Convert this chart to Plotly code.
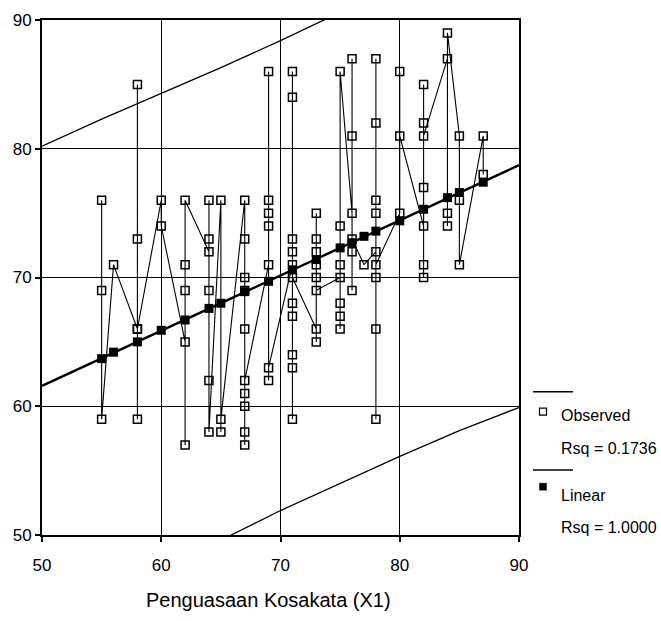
import numpy as np
import plotly.graph_objects as go

# Observed cases: Penguasaan Kosakata (X1) against the dependent score, in case order
x_obs = [55, 55, 55,
         56,
         58, 58, 58, 58, 58,
         60, 60,
         62, 62, 62, 62, 62,
         64, 64, 64, 64, 64, 64,
         65, 65, 65,
         67, 67, 67, 67, 67, 67, 67, 67, 67, 67,
         69, 69, 69, 69, 69, 69, 69,
         71, 71, 71, 71, 71, 71, 71, 71, 71, 71, 71,
         73, 73, 73, 73, 73, 73, 73, 73,
         75, 75, 75, 75, 75, 75, 75,
         76, 76, 76, 76, 76, 76,
         77,
         78, 78, 78, 78, 78, 78, 78, 78, 78,
         80, 80, 80,
         82, 82, 82, 82, 82, 82, 82,
         84, 84, 84, 84,
         85, 85, 85,
         87, 87]
y_obs = [76, 69, 59,
         71,
         66, 85, 59, 73, 66,
         76, 74,
         65, 57, 69, 71, 76,
         72, 76, 73, 69, 62, 58,
         76, 58, 59,
         76, 57, 73, 58, 70, 60, 69, 61, 66, 62,
         71, 86, 76, 75, 74, 62, 63,
         71, 86, 84, 59, 73, 72, 68, 67, 64, 63, 70,
         66, 75, 65, 73, 72, 71, 70, 69,
         70, 66, 74, 67, 71, 68, 86,
         75, 87, 69, 81, 72, 73,
         71,
         72, 87, 59, 82, 76, 75, 70, 66, 71,
         75, 86, 81,
         74, 70, 85, 71, 77, 82, 81,
         87, 75, 74, 89,
         81, 76, 71,
         81, 78]

# Linear model: predicted values at each observed X1
x_linear = [55, 56, 58, 60, 62, 64, 65, 67, 69, 71,
            73, 75, 76, 77, 78, 80, 82, 84, 85, 87]
y_linear = [63.7, 64.2, 65.0, 65.9, 66.7, 67.6, 68.0, 68.9, 69.7, 70.6,
            71.4, 72.3, 72.7, 73.2, 73.6, 74.4, 75.3, 76.2, 76.6, 77.4]

# Prediction band limits
band_x = [50, 55, 60, 65, 70, 75, 80, 85, 90]
band_upper = [80.2, 82.3, 84.3, 86.3, 88.4, 90.6, 92.7, 95.0, 97.4]
band_lower = [42.8, 45.2, 47.4, 49.6, 51.9, 54.0, 56.1, 58.1, 59.9]

x_ticks = [50, 60, 70, 80, 90]
y_ticks = [50, 60, 70, 80, 90]
rsq_observed = "0.1736"
rsq_linear = "1.0000"
x_title = "Penguasaan Kosakata (X1)"

# The fitted line spans the full axis range
slope, intercept = np.polyfit(x_linear, y_linear, 1)
line_x = [50, 90]
line_y = [intercept + slope * v for v in line_x]

# Page geometry (pixels)
W, H = 661, 621
L, R, T, B = 42, 519, 20, 535


def px(xp):
    return (xp - L) / (R - L)


def py(yp):
    return (B - yp) / (B - T)


FONT = "Liberation Sans, Arial, sans-serif"

fig = go.Figure()

fig.add_trace(go.Scatter(x=band_x, y=band_upper, mode="lines",
                         line=dict(color="black", width=1.3), hoverinfo="skip"))
fig.add_trace(go.Scatter(x=band_x, y=band_lower, mode="lines",
                         line=dict(color="black", width=1.3), hoverinfo="skip"))
fig.add_trace(go.Scatter(x=x_obs, y=y_obs, mode="lines+markers",
                         line=dict(color="black", width=1.1),
                         marker=dict(symbol="square-open", size=8, color="black",
                                     line=dict(width=1.5, color="black"))))
fig.add_trace(go.Scatter(x=line_x, y=line_y, mode="lines",
                         line=dict(color="black", width=2.4), hoverinfo="skip"))
fig.add_trace(go.Scatter(x=x_linear, y=y_linear, mode="markers",
                         marker=dict(symbol="square", size=9, color="black",
                                     line=dict(width=0))))

axis_common = dict(
    showline=True, linecolor="black", linewidth=2, mirror=True,
    showgrid=True, gridcolor="black", gridwidth=1.3,
    zeroline=False, ticks="outside", ticklen=5, tickwidth=1.5, tickcolor="black",
    tickfont=dict(family=FONT, size=17, color="black"),
)

fig.update_xaxes(range=[50, 90], tickvals=x_ticks, ticklabelstandoff=9, **axis_common)
fig.update_yaxes(range=[50, 90], tickvals=y_ticks, **axis_common)

shapes = []
annotations = []

# Legend block drawn at the right of the plot
for yl in (391.7, 470):
    shapes.append(dict(type="line", xref="paper", yref="paper",
                       x0=px(533), x1=px(573), y0=py(yl), y1=py(yl),
                       line=dict(color="black", width=1.5)))
shapes.append(dict(type="rect", xref="paper", yref="paper",
                   x0=px(539.5), x1=px(546.5), y0=py(415.2), y1=py(408.2),
                   line=dict(color="black", width=1.2), fillcolor="rgba(0,0,0,0)"))
shapes.append(dict(type="rect", xref="paper", yref="paper",
                   x0=px(539.5), x1=px(546.5), y0=py(490.2), y1=py(483.2),
                   line=dict(color="black", width=0.5), fillcolor="black"))

legend_texts = [("Observed", 415), ("Rsq = " + rsq_observed, 448),
                ("Linear", 495), ("Rsq = " + rsq_linear, 527)]
for txt, yc in legend_texts:
    annotations.append(dict(text=txt, xref="paper", yref="paper",
                            x=px(559), y=py(yc), xanchor="left", yanchor="middle",
                            showarrow=False,
                            font=dict(family=FONT, size=16, color="black")))

annotations.append(dict(text=x_title, xref="paper", yref="paper",
                        x=px(268), y=py(600), xanchor="center", yanchor="middle",
                        showarrow=False,
                        font=dict(family=FONT, size=20, color="black")))

fig.update_layout(
    width=W, height=H,
    margin=dict(l=L, r=W - R, t=T, b=H - B),
    paper_bgcolor="white", plot_bgcolor="white",
    showlegend=False,
    shapes=shapes, annotations=annotations,
)

fig.write_html("out.html")
